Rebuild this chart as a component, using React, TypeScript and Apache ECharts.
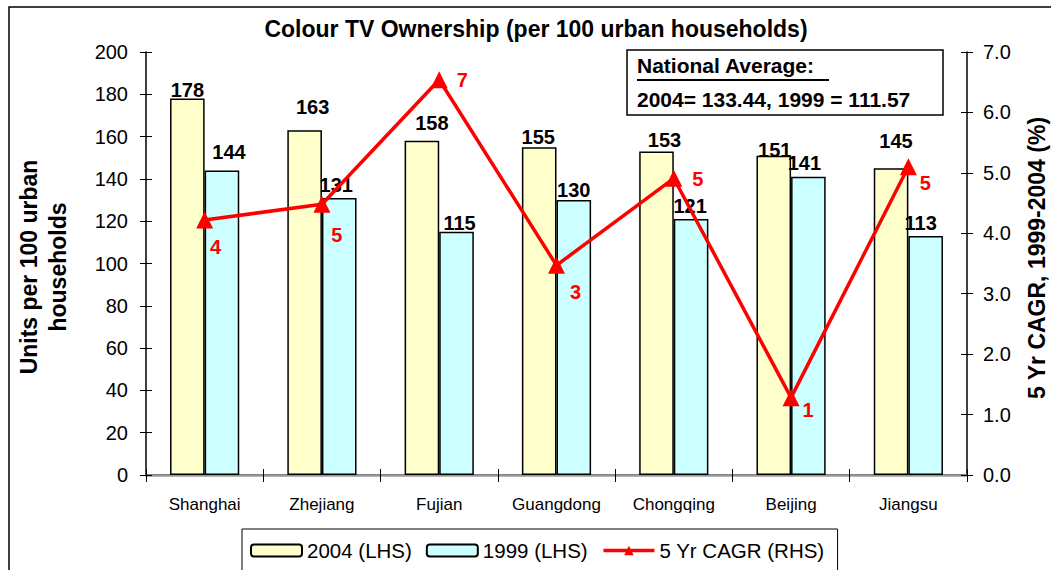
import React, { useEffect, useRef } from "react";
import * as echarts from "echarts";

// ---------- data ----------
const categories = ["Shanghai", "Zhejiang", "Fujian", "Guangdong", "Chongqing", "Beijing", "Jiangsu"];
const units2004 = [178, 163, 158, 155, 153, 151, 145];
const units1999 = [144, 131, 115, 130, 121, 141, 113];
const cagr = [4.22, 4.48, 6.54, 3.47, 4.91, 1.28, 5.1];
const cagrLabels = ["4", "5", "7", "3", "5", "1", "5"];
const seriesNames = ["2004 (LHS)", "1999 (LHS)", "5 Yr CAGR (RHS)"];
const leftAxis = { min: 0, max: 200, interval: 20 };
const rightAxis = { min: 0, max: 7, interval: 1 };
const titleText = "Colour TV Ownership (per 100 urban households)";
const leftAxisTitle = "Units per 100 urban\nhouseholds";
const rightAxisTitle = "5 Yr CAGR, 1999-2004 (%)";
const noteTitle = "National Average:";
const noteText = "2004= 133.44, 1999 = 111.57";

// ---------- label nudges (layout only) ----------
const nudge2004 = [[0, 1.5], [8, -13], [10, -8], [-1, 0], [8, -1], [1, 4], [5, -17]];
const nudge1999 = [[7, -8], [-3, -3], [3, 1], [0, 0], [-1, -3], [-4, -4], [-5, -3]];
const nudgeCagr = [[11, 27], [15, 31], [23, 0], [19, 27], [24, 1], [17, 12], [17, 16]];

const FONT = "'Liberation Sans', Arial, Helvetica, sans-serif";

export default function App() {
  const ref = useRef<HTMLDivElement>(null);

  useEffect(() => {
    if (!ref.current) return;
    const chart = echarts.init(ref.current, null, { renderer: "svg" });

    const barLabel = {
      show: true,
      position: "top",
      distance: 0,
      color: "#000",
      fontSize: 20,
      fontWeight: "bold",
      fontFamily: FONT,
    };

    const option: any = {
      animation: false,
      backgroundColor: "#fff",
      textStyle: { fontFamily: FONT },
      title: {
        text: titleText,
        left: 536,
        top: 17,
        padding: 0,
        textAlign: "center",
        textStyle: { fontSize: 23, fontWeight: "bold", color: "#000", fontFamily: FONT },
      },
      grid: { left: 146, right: 84, top: 52, bottom: 95, containLabel: false },
      legend: {
        data: seriesNames,
        left: 242,
        top: 529,
        padding: [11, 13, 40, 8],
        itemWidth: 51,
        itemHeight: 12,
        itemGap: 14,
        borderColor: "#000",
        borderWidth: 1,
        lineStyle: { width: 3.5 },
        textStyle: { fontSize: 20.5, color: "#000", fontFamily: FONT },
      },
      xAxis: [
        {
          type: "category",
          data: categories,
          position: "bottom",
          axisLine: { show: true, lineStyle: { color: "#000", width: 1.5 } },
          axisTick: { show: true, inside: false, length: 7, lineStyle: { color: "#000" } },
          axisLabel: { color: "#000", fontSize: 17, margin: 21, fontFamily: FONT },
          splitLine: { show: false },
        },
        {
          type: "category",
          data: categories,
          position: "top",
          axisLine: { show: true, lineStyle: { color: "#999", width: 2.5 } },
          axisTick: { show: false },
          axisLabel: { show: false },
          splitLine: { show: false },
        },
        {
          type: "category",
          data: categories,
          position: "bottom",
          axisLine: { show: false },
          axisTick: { show: true, inside: true, length: 6, lineStyle: { color: "#000" } },
          axisLabel: { show: false },
          splitLine: { show: false },
        },
      ],
      yAxis: [
        {
          type: "value",
          position: "left",
          ...leftAxis,
          axisLine: { show: true, lineStyle: { color: "#000", width: 1.5 } },
          axisTick: { show: true, inside: false, length: 6, lineStyle: { color: "#000" } },
          axisLabel: { color: "#000", fontSize: 20, margin: 18, fontFamily: FONT },
          splitLine: { show: false },
        },
        {
          type: "value",
          position: "right",
          ...rightAxis,
          axisLine: { show: true, lineStyle: { color: "#000", width: 1.5 } },
          axisTick: { show: true, inside: false, length: 6, lineStyle: { color: "#000" } },
          axisLabel: {
            color: "#000",
            fontSize: 20,
            margin: 16,
            fontFamily: FONT,
            formatter: (v: number) => v.toFixed(1),
          },
          splitLine: { show: false },
        },
        {
          type: "value",
          position: "left",
          ...leftAxis,
          axisLine: { show: false },
          axisTick: { show: true, inside: true, length: 6, lineStyle: { color: "#000" } },
          axisLabel: { show: false },
          splitLine: { show: false },
        },
        {
          type: "value",
          position: "right",
          ...rightAxis,
          axisLine: { show: false },
          axisTick: { show: true, inside: true, length: 6, lineStyle: { color: "#000" } },
          axisLabel: { show: false },
          splitLine: { show: false },
        },
      ],
      series: [
        {
          name: seriesNames[0],
          type: "bar",
          xAxisIndex: 0,
          yAxisIndex: 0,
          barGap: "0%",
          barCategoryGap: "41%",
          itemStyle: { color: "#FFFFCC", borderColor: "#000", borderWidth: 1.5 },
          data: units2004.map((v, i) => ({
            value: v,
            label: { ...barLabel, offset: nudge2004[i] },
          })),
        },
        {
          name: seriesNames[1],
          type: "bar",
          xAxisIndex: 0,
          yAxisIndex: 0,
          barGap: "0%",
          barCategoryGap: "41%",
          itemStyle: { color: "#CCFFFF", borderColor: "#000", borderWidth: 1.5 },
          data: units1999.map((v, i) => ({
            value: v,
            label: { ...barLabel, offset: nudge1999[i] },
          })),
        },
        {
          name: seriesNames[2],
          type: "line",
          xAxisIndex: 0,
          yAxisIndex: 1,
          symbol: "triangle",
          symbolSize: 17,
          lineStyle: { color: "#FF0000", width: 3.5 },
          itemStyle: { color: "#FF0000" },
          z: 5,
          data: cagr.map((v, i) => ({
            value: v,
            label: {
              show: true,
              position: "inside",
              offset: nudgeCagr[i],
              color: "#FF0000",
              fontSize: 20,
              fontWeight: "bold",
              fontFamily: FONT,
              formatter: () => cagrLabels[i],
            },
          })),
        },
      ],
      graphic: [
        {
          type: "rect",
          shape: { x: 9, y: 7, width: 1100, height: 620 },
          style: { fill: "none", stroke: "#000", lineWidth: 1.5 },
          silent: true,
        },
        {
          type: "rect",
          shape: { x: 627, y: 50, width: 316, height: 65 },
          style: { fill: "#fff", stroke: "#000", lineWidth: 1.5 },
          z: 10,
        },
        {
          type: "text",
          x: 637,
          y: 65,
          z: 11,
          style: {
            text: noteTitle,
            fill: "#000",
            fontSize: 21,
            fontWeight: "bold",
            fontFamily: FONT,
            align: "left",
            verticalAlign: "middle",
          },
        },
        {
          type: "line",
          z: 11,
          shape: { x1: 637, y1: 80, x2: 829, y2: 80 },
          style: { stroke: "#000", lineWidth: 2 },
        },
        {
          type: "text",
          x: 637,
          y: 99,
          z: 11,
          style: {
            text: noteText,
            fill: "#000",
            fontSize: 21,
            fontWeight: "bold",
            fontFamily: FONT,
            align: "left",
            verticalAlign: "middle",
          },
        },
        {
          type: "text",
          x: 43.5,
          y: 267,
          rotation: Math.PI / 2,
          style: {
            text: leftAxisTitle,
            fill: "#000",
            fontSize: 23,
            fontWeight: "bold",
            fontFamily: FONT,
            align: "center",
            verticalAlign: "middle",
            lineHeight: 29,
          },
        },
        {
          type: "text",
          x: 1037,
          y: 258,
          rotation: Math.PI / 2,
          style: {
            text: rightAxisTitle,
            fill: "#000",
            fontSize: 23,
            fontWeight: "bold",
            fontFamily: FONT,
            align: "center",
            verticalAlign: "middle",
          },
        },
      ],
    };

    chart.setOption(option);
    return () => chart.dispose();
  }, []);

  return (
    <div
      ref={ref}
      style={{ position: "fixed", left: 0, top: 0, width: 1051, height: 570, background: "#fff" }}
    />
  );
}
